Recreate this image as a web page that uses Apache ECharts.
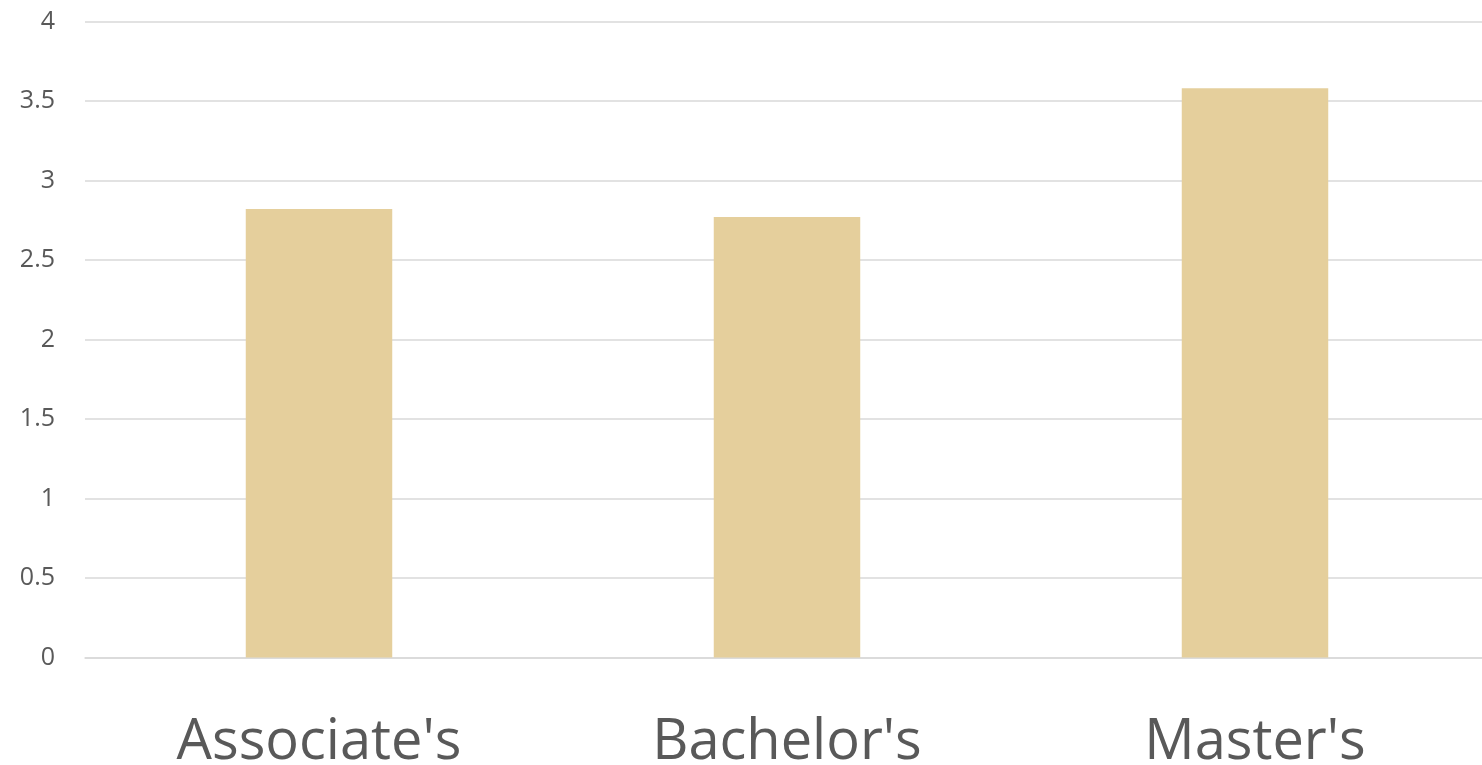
<!DOCTYPE html>
<html>
<head>
<meta charset="utf-8">
<script src="https://cdn.jsdelivr.net/npm/echarts@6/dist/echarts.min.js"></script>
<style>
html,body{margin:0;padding:0;background:#fff;overflow:hidden;width:1482px;height:765px;}
#wrap{width:1482px;height:765px;overflow:hidden;position:relative;}
#chart{width:1489px;height:765px;position:absolute;left:0;top:0;}
</style>
</head>
<body>
<div id="wrap"><div id="chart"></div></div>
<script>
const categories = ["Associate's", "Bachelor's", "Master's"];
const values = [2.82, 2.77, 3.58];
const yTicks = { min: 0, max: 4, interval: 0.5 };

const chart = echarts.init(document.getElementById('chart'), null, { renderer: 'canvas' });
chart.setOption({
  animation: false,
  backgroundColor: '#ffffff',
  grid: { left: 85, right: 0, top: 21.5, bottom: 107.5, containLabel: false, outerBoundsMode: 'none' },
  xAxis: {
    type: 'category',
    data: categories,
    axisLine: { show: true, lineStyle: { color: '#d9d9d9', width: 1.5 } },
    axisTick: { show: false },
    axisLabel: {
      color: '#595959',
      fontFamily: 'Open Sans',
      fontSize: 56,
      margin: 86,
      verticalAlign: 'middle',
      lineHeight: 60
    }
  },
  yAxis: {
    type: 'value',
    min: yTicks.min,
    max: yTicks.max,
    interval: yTicks.interval,
    axisLine: { show: false },
    axisTick: { show: false },
    splitLine: { lineStyle: { color: '#d9d9d9', width: 1.5 } },
    axisLabel: {
      color: '#595959',
      fontFamily: 'Open Sans',
      fontSize: 25,
      margin: 30
    }
  },
  series: [{
    type: 'bar',
    data: values,
    barWidth: '31.3%',
    itemStyle: { color: '#E5CF9C' }
  }]
});
</script>
</body>
</html>
